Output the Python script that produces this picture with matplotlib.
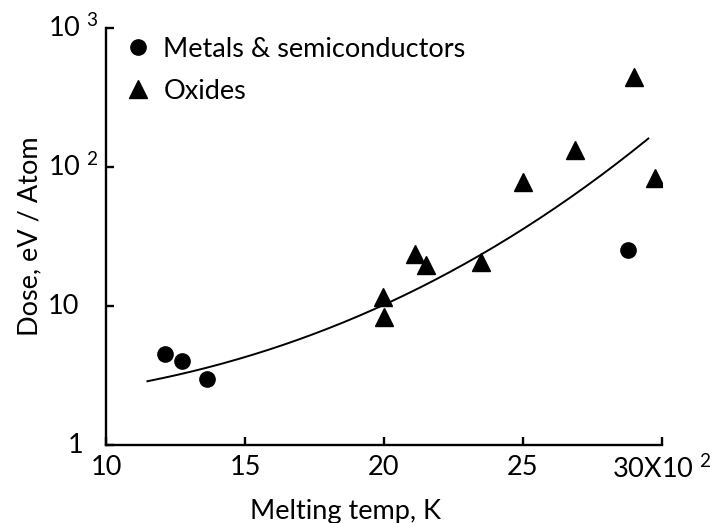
import numpy as np
import matplotlib
matplotlib.use("Agg")
import matplotlib.pyplot as plt
from matplotlib.transforms import ScaledTranslation

plt.rcParams['font.family'] = ['Lato', 'DejaVu Sans']
plt.rcParams['mathtext.fontset'] = 'custom'
plt.rcParams['mathtext.rm'] = 'Lato'

# melting temperature (x100 K) and dose (eV/atom)
metalT = [12.12, 12.74, 13.62, 28.77]
metalDose = [4.5, 4.0, 3.0, 25.3]

oxideT = [19.97, 20.0, 21.13, 21.51, 23.5, 24.99, 26.88, 29.0, 29.76]
oxideDose = [11.7, 8.4, 23.7, 19.7, 20.8, 78.4, 132, 442, 83]

# trend curve
curveT = [11.49, 13.62, 16.02, 18.42, 19.86, 23.45, 25.25, 27.05, 28.25, 29.51]
curveDose = [2.90, 3.56, 4.96, 7.30, 10.2, 23.9, 37.2, 66.4, 103, 161]

xTicks = [10, 15, 20, 25, 30]
xLabels = ["10", "15", "20", "25", r"30X10 $^{2}$"]
yTicks = [1, 10, 100, 1000]
yLabels = ["1", "10", r"10 $^{2}$", r"10 $^{3}$"]

fig = plt.figure(figsize=(7.23, 5.23), dpi=100)
ax = fig.add_axes([0.1466, 0.1491, 0.769, 0.7974])

# smooth the trend curve in log space for drawing
cx = np.array(curveT)
cy = np.log10(curveDose)
coef = np.polyfit(cx, cy, 3)
xs = np.linspace(cx[0], cx[-1], 200)
ax.plot(xs, 10 ** np.polyval(coef, xs), color='black', lw=1.4)

ax.plot(metalT, metalDose, 'o', color='black', ms=11, label='Metals & semiconductors')
ax.plot(oxideT, oxideDose, '^', color='black', ms=12.5, label='Oxides')

ax.set_yscale('log')
ax.set_xlim(10, 30)
ax.set_ylim(1, 1000)
ax.minorticks_off()

for s in ['top', 'right']:
    ax.spines[s].set_visible(False)
for s in ['left', 'bottom']:
    ax.spines[s].set_linewidth(1.7)

ax.tick_params(direction='in', length=6, width=1.7)
ax.set_xticks(xTicks)
ax.set_xticklabels(xLabels, fontsize=19.5)
ax.tick_params(axis='x', pad=7)
ax.set_yticks(yTicks)
ax.set_yticklabels([])

# y tick labels placed by hand
for v, lab in zip(yTicks, yLabels):
    dx = -38 if v == 1 else -58
    tr = ax.get_yaxis_transform() + ScaledTranslation(dx / 100, 0, fig.dpi_scale_trans)
    ax.text(0, v, lab, transform=tr, ha='left', va='center', fontsize=19.5)

ax.set_xlabel('Melting temp, K', fontsize=19.5)
ax.xaxis.set_label_coords(0.43, -0.13)
ax.set_ylabel('Dose, eV / Atom', fontsize=19.5)
ax.yaxis.set_label_coords(-0.115, 0.5)

ax.legend(loc='upper left', bbox_to_anchor=(0.013, 1.005), frameon=False,
          fontsize=19.5, handlelength=1.0, handletextpad=0.45, labelspacing=0.62,
          borderaxespad=0)

fig.savefig('out.png', dpi=100)
